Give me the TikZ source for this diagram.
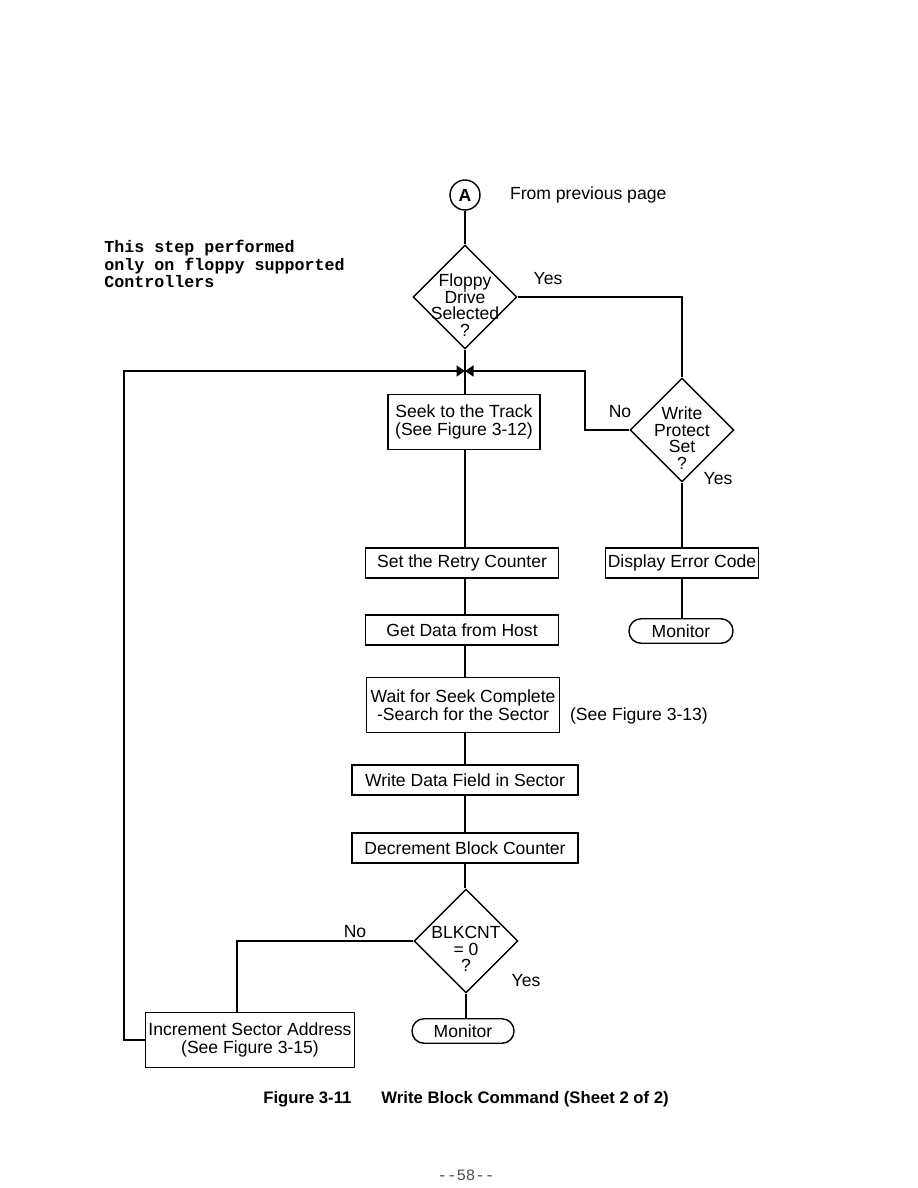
\documentclass[tikz,border=0pt]{standalone}
\usepackage{fontspec}
\setmainfont{Liberation Sans}
\newfontfamily\notefont{Liberation Mono}
\usetikzlibrary{arrows.meta,shapes.geometric}
\newcommand\decfont{\fontsize{10}{9.4}\selectfont\setlength{\lineskiplimit}{-10pt}}

\begin{document}
\begin{tikzpicture}[x=0.02cm,y=-0.02cm,
box/.style={draw,line width=0.8pt,inner sep=0pt,align=center,font=\fontsize{10}{10.3}\selectfont},
decision/.style={draw,diamond,line width=0.8pt,minimum size=2.08cm,inner sep=0pt},
dtext/.style={align=center,font=\decfont,inner sep=0pt,yshift=-0.16cm},
terminal/.style={draw,line width=0.8pt,rounded corners=0.24cm,minimum width=2.08cm,minimum height=0.49cm,inner sep=0pt,font=\fontsize{10}{10}\selectfont},
line/.style={line width=0.8pt},
arrow/.style={-{Triangle[length=0.17cm,width=0.22cm]},line width=0.8pt},
lbl/.style={font=\fontsize{10}{10}\selectfont,inner sep=1pt}]

\useasboundingbox (0,0) rectangle (918,1188);

\node[draw,circle,line width=0.8pt,minimum size=0.6cm,inner sep=0pt,font=\bfseries\fontsize{10}{10}\selectfont] (A) at (465,195) {A};
\node[lbl,anchor=west] (from) at (508,195) {From previous page};

\node[anchor=north west,align=left,inner sep=0pt,font=\notefont\bfseries\fontsize{9.5}{8.8}\selectfont] (note) at (104,240) {This step performed\\only on floppy supported\\Controllers};

\node[decision,label={[dtext]center:{Floppy\\Drive\\Selected\\?}}] (floppy) at (465,297) {};
\node[decision,label={[dtext]center:{Write\\Protect\\Set\\?}}] (wprot) at (682,430) {};
\node[decision,label={[dtext]center:{BLKCNT\\= 0\\?}}] (blkcnt) at (466,941) {};

\coordinate (J) at (465,371);
\coordinate (noright) at (585,430);
\coordinate (loopleft) at (124,371);
\coordinate (nobend) at (237,941);

\node[box,minimum width=3.04cm,minimum height=1.1cm] (seek) at (464,422) {Seek to the Track\\(See Figure 3-12)};
\node[box,minimum width=3.86cm,minimum height=0.6cm] (retry) at (462,563) {Set the Retry Counter};
\node[box,minimum width=3.86cm,minimum height=0.6cm] (getdata) at (462,630) {Get Data from Host};
\node[box,minimum width=3.86cm,minimum height=1.1cm] (wait) at (463,705) {Wait for Seek Complete\\-Search for the Sector};
\node[lbl,anchor=west] (seefig) at (568,716) {(See Figure 3-13)};
\node[box,minimum width=4.52cm,minimum height=0.6cm] (wdata) at (465,780) {Write Data Field in Sector};
\node[box,minimum width=4.52cm,minimum height=0.6cm] (decr) at (465,848) {Decrement Block Counter};
\node[box,minimum width=3.06cm,minimum height=0.6cm] (error) at (682,563) {Display Error Code};
\node[terminal] (mon1) at (681,631) {Monitor};
\node[terminal,minimum width=2.04cm] (mon2) at (463,1031) {Monitor};
\node[box,minimum width=4.18cm,minimum height=1.1cm] (incr) at (250,1040) {Increment Sector Address\\(See Figure 3-15)};

\node[lbl] (yes1) at (548,279) {Yes};
\node[lbl] (no1) at (620,412) {No};
\node[lbl] (yes2) at (718,479) {Yes};
\node[lbl] (no2) at (355,932) {No};
\node[lbl] (yes3) at (526,981) {Yes};

\draw[line] (A) -- (floppy);
\draw[line] (floppy.south) -- (floppy.south |- seek.north);
\draw[line] (floppy.east) -| (wprot.north);
\draw[arrow] (wprot.west) -- (noright) |- (J);
\draw[arrow] (incr.west) -| (loopleft) -- (J);
\draw[line] (wprot.south) -- (error.north);
\draw[line] (wprot.south |- error.south) -- (wprot.south |- mon1.north);
\draw[line] (J |- seek.south) -- (J |- retry.north);
\draw[line] (J |- retry.south) -- (J |- getdata.north);
\draw[line] (J |- getdata.south) -- (J |- wait.north);
\draw[line] (J |- wait.south) -- (J |- wdata.north);
\draw[line] (wdata) -- (decr);
\draw[line] (J |- decr.south) -- (J |- blkcnt.north);
\draw[line] (blkcnt.south) -- (blkcnt.south |- mon2.north);
\draw[line] (blkcnt.west) -- (nobend) -- (nobend |- incr.north);

\node[font=\bfseries\fontsize{9.5}{9.5}\selectfont] (caption) at (466,1099) {Figure 3-11\hspace{1.8em}Write Block Command (Sheet 2 of 2)};
\node[font=\notefont\fontsize{9}{9}\selectfont,text=black!70] (page) at (466,1175) {--58--};

\end{tikzpicture}
\end{document}
